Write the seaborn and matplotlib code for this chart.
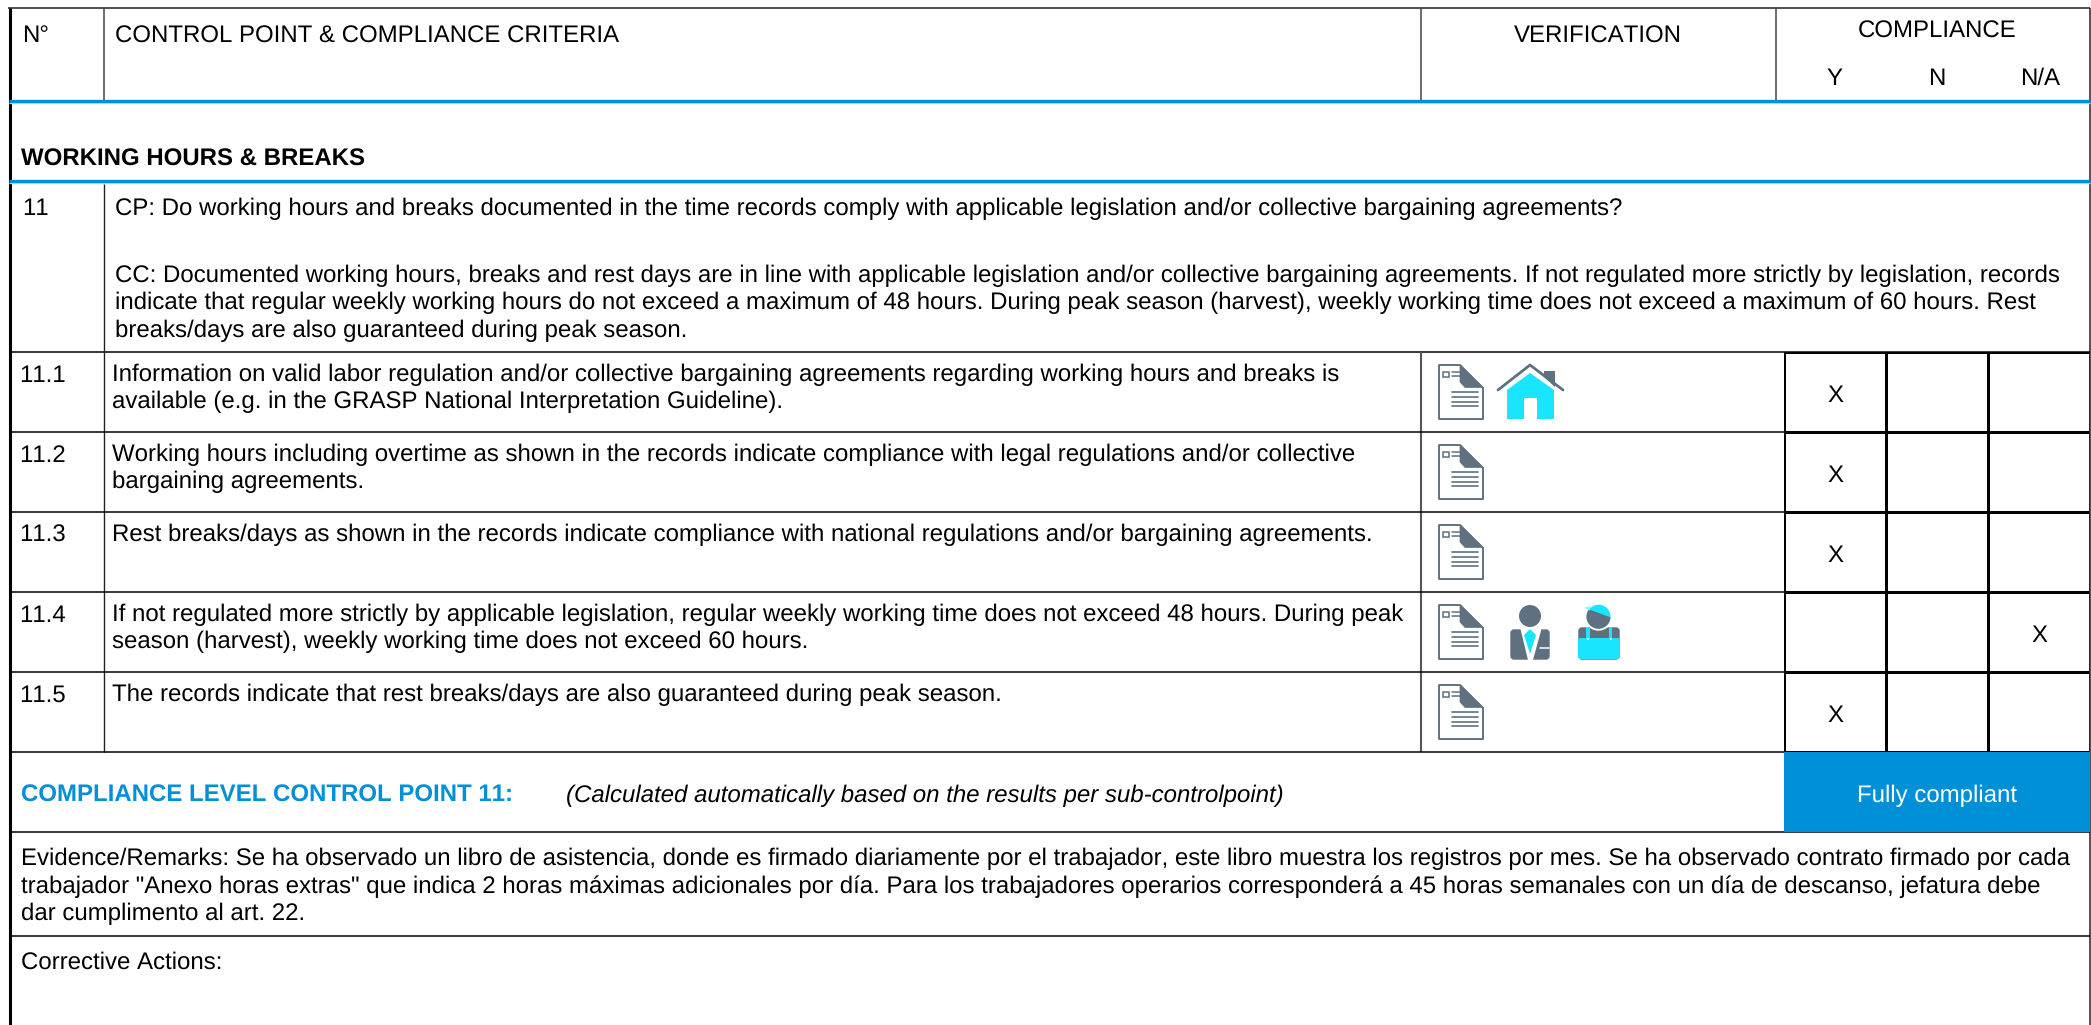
import numpy as np
import seaborn as sns
import matplotlib.pyplot as plt
from matplotlib.colors import ListedColormap
from matplotlib.patches import Polygon, Circle, Rectangle, FancyBboxPatch

W, H = 2091, 1025
BLUE = '#0090D7'
CYAN = '#19E5FF'
SLATE = '#5F7180'
FS = 17.25

# chart content
row_ids = ['11.1', '11.2', '11.3', '11.4', '11.5']
row_text = [
    ['Information on valid labor regulation and/or collective bargaining agreements regarding working hours and breaks is',
     'available (e.g. in the GRASP National Interpretation Guideline).'],
    ['Working hours including overtime as shown in the records indicate compliance with legal regulations and/or collective',
     'bargaining agreements.'],
    ['Rest breaks/days as shown in the records indicate compliance with national regulations and/or bargaining agreements.'],
    ['If not regulated more strictly by applicable legislation, regular weekly working time does not exceed 48 hours. During peak',
     'season (harvest), weekly working time does not exceed 60 hours.'],
    ['The records indicate that rest breaks/days are also guaranteed during peak season.'],
]
row_icons = [['doc', 'house'], ['doc'], ['doc'], ['doc', 'manager', 'worker'], ['doc']]
compliance_cols = ['Y', 'N', 'N/A']
compliance = [['X', '', ''], ['X', '', ''], ['X', '', ''], ['', '', 'X'], ['X', '', '']]
cp_line = 'CP: Do working hours and breaks documented in the time records comply with applicable legislation and/or collective bargaining agreements?'
cc_lines = [
    'CC: Documented working hours, breaks and rest days are in line with applicable legislation and/or collective bargaining agreements. If not regulated more strictly by legislation, records',
    'indicate that regular weekly working hours do not exceed a maximum of 48 hours. During peak season (harvest), weekly working time does not exceed a maximum of 60 hours. Rest',
    'breaks/days are also guaranteed during peak season.',
]
evidence_lines = [
    'Evidence/Remarks: Se ha observado un libro de asistencia, donde es firmado diariamente por el trabajador, este libro muestra los registros por mes. Se ha observado contrato firmado por cada',
    'trabajador "Anexo horas extras" que indica 2 horas máximas adicionales por día. Para los trabajadores operarios corresponderá a 45 horas semanales con un día de descanso, jefatura debe',
    'dar cumplimento al art. 22.',
]

sns.set_theme(style='white')
plt.rcParams['font.family'] = ['Liberation Sans', 'DejaVu Sans']
plt.rcParams['text.hinting'] = 'no_hinting'
plt.rcParams['text.hinting_factor'] = 1
plt.rcParams['text.kerning_factor'] = 6

fig = plt.figure(figsize=(W / 100, H / 100), dpi=100, facecolor='white')
ax = fig.add_axes([0, 0, 1, 1])
ax.set_xlim(0, W)
ax.set_ylim(H, 0)
ax.axis('off')


def hline(y, x0=9, x1=2090, color='black', lw=1.1):
    ax.plot([x0, x1], [y, y], color=color, lw=lw, solid_capstyle='butt')


def vline(x, y0, y1, color='black', lw=1.0):
    ax.plot([x, x], [y0, y1], color=color, lw=lw, solid_capstyle='butt')


def label(x, y, s, **kw):
    kw.setdefault('fontsize', FS)
    kw.setdefault('color', 'black')
    kw.setdefault('va', 'baseline')
    ax.text(x, y, s, **kw)


def draw_doc(x, y):
    ax.add_patch(Polygon([(x, y), (x + 21, y), (x + 44, y + 23), (x + 44, y + 54), (x, y + 54)],
                         closed=True, fc='white', ec=SLATE, lw=1.4, joinstyle='round'))
    ax.add_patch(Polygon([(x + 21, y), (x + 21, y + 17), (x + 26, y + 22.5), (x + 44, y + 22.5)],
                         closed=True, fc=SLATE, ec=SLATE, lw=0.5))
    ax.add_patch(Rectangle((x + 3.5, y + 6.5), 6.5, 5, fc='white', ec=SLATE, lw=1.1))
    for dy in [7, 10.5]:
        ax.plot([x + 12.5, x + 21], [y + dy, y + dy], color=SLATE, lw=1.1)
    for dy in [27.3, 32, 36.7, 41.3]:
        ax.plot([x + 12.5, x + 39], [y + dy, y + dy], color=SLATE, lw=1.2)


def draw_house(x, y):
    ax.add_patch(Polygon([(x + 46, y + 6), (x + 57, y + 6), (x + 57, y + 22), (x + 46, y + 12)],
                         closed=True, fc=SLATE, ec='none'))
    ax.add_patch(Polygon([(x + 32, y + 8), (x + 56, y + 25), (x + 56, y + 54), (x + 39, y + 54), (x + 39, y + 33),
                          (x + 26, y + 33), (x + 26, y + 54), (x + 9, y + 54), (x + 9, y + 25)],
                         closed=True, fc=CYAN, ec='none'))
    ax.plot([x, x + 32, x + 65], [y + 25, y, y + 25], color=SLATE, lw=2.0)


def draw_manager(x, y):
    ax.add_patch(Circle((x + 21, y + 11), 11, fc=SLATE, ec='none'))
    ax.add_patch(FancyBboxPatch((x + 2, y + 25), 38, 29, boxstyle='round,pad=0,rounding_size=3', fc=SLATE, ec=SLATE, lw=1))
    ax.add_patch(Polygon([(x + 11, y + 22), (x + 19, y + 55), (x + 24, y + 55), (x + 33, y + 22)], closed=True, fc='white', ec='none'))
    ax.add_patch(Polygon([(x + 21, y + 24), (x + 27, y + 30), (x + 21, y + 49), (x + 15, y + 30)], closed=True, fc=CYAN, ec='none'))
    ax.plot([x + 31, x + 40], [y + 43, y + 43], color='white', lw=1.1)


def draw_worker(x, y):
    cx, cy = x + 20.5, y + 11.7
    ax.add_patch(FancyBboxPatch((x + 1, y + 23), 40, 31, boxstyle='round,pad=0,rounding_size=3', fc=SLATE, ec=SLATE, lw=1))
    ax.add_patch(FancyBboxPatch((x, y + 33), 42, 21, boxstyle='round,pad=0,rounding_size=3', fc=CYAN, ec='none'))
    ax.add_patch(Circle((cx, cy), 14, fc='white', ec='none'))
    cap = Circle((cx, cy), 12, fc=CYAN, ec='none')
    ax.add_patch(cap)
    head = Polygon([(cx - 14, cy - 9), (cx + 13, cy + 1), (cx + 13, cy + 14), (cx - 14, cy + 14)],
                   closed=True, fc=SLATE, ec='none')
    ax.add_patch(head)
    head.set_clip_path(cap)
    ax.add_patch(Polygon([(cx - 14, cy - 9), (cx - 8, cy - 11), (cx - 9, cy - 6)], closed=True, fc='#8CF1FF', ec='none'))
    for sx in [8.3, 31]:
        ax.add_patch(Rectangle((x + sx, y + 22), 3.4, 12, fc=CYAN, ec='none'))
        ax.add_patch(Circle((x + sx + 1.7, y + 34), 1.0, fc='white', ec='none'))


icon_funcs = {'doc': (draw_doc, 1439), 'house': (draw_house, 1498),
              'manager': (draw_manager, 1509), 'worker': (draw_worker, 1578)}

# outer frame and header
hline(8, 8, 2090, color='#333333', lw=1.2)
vline(10, 8, H, lw=2.2)
vline(2090, 8, H, color='#333333', lw=1.2)
for x in [103.5, 1421, 1776]:
    vline(x, 8, 100, color='#444444', lw=1.1)
for y in [101, 181]:
    hline(y + 2, color='#BFE3F5', lw=1.0)
    hline(y, color=BLUE, lw=2.4)

label(22, 42.5, 'N°')
label(115, 42.5, 'CONTROL POINT & COMPLIANCE CRITERIA')
label(1598, 42.5, 'VERIFICATION', ha='center')
label(1937, 37.5, 'COMPLIANCE', ha='center')
for cx, name in zip([1834, 1937, 2040], compliance_cols):
    label(cx, 85, name, ha='center')
label(21, 165.5, 'WORKING HOURS & BREAKS', fontweight='bold')

# control point block
label(22, 215, '11')
label(115, 215, cp_line)
for y, line in zip([281.7, 309.3, 336.7], cc_lines):
    label(115, y, line)
hline(352)
vline(103.5, 184, 752, color='#222222', lw=1.0)
vline(1421, 352, 752, color='#555555', lw=1.5)

# sub control points
row_tops = [352, 432, 512, 592, 672]
for top, rid, lines, icons in zip(row_tops, row_ids, row_text, row_icons):
    hline(top + 80, 9, 1784)
    label(19.5, top + 29.5, rid)
    for k, line in enumerate(lines):
        label(112.5, top + 29.5 + k * 26.6, line)
    for name in icons:
        func, x = icon_funcs[name]
        func(x, top + 13)

# compliance tick cells
grid_ax = fig.add_axes([1784 / W, 1 - 752 / H, 306 / W, 400 / H], zorder=3)
sns.heatmap(np.zeros((5, 3)), ax=grid_ax, annot=np.array(compliance), fmt='', cbar=False,
            cmap=ListedColormap(['white']), linewidths=2.0, linecolor='black',
            xticklabels=False, yticklabels=False, annot_kws={'fontsize': FS, 'color': 'black'})
grid_ax.set_xlim(0, 3)
grid_ax.set_ylim(5, 0)
for t in grid_ax.texts:
    px, py = t.get_position()
    t.set_position((px, py + 0.045))

# compliance level
label(21, 801.7, 'COMPLIANCE LEVEL CONTROL POINT 11:', color=BLUE, fontweight='bold')
label(566, 801.7, '(Calculated automatically based on the results per sub-controlpoint)', fontstyle='italic')
ax.add_patch(Rectangle((1784, 752), 306, 80, fc=BLUE, ec='none', zorder=4))
ax.set_zorder(4)
ax.patch.set_visible(False)
label(1937, 801.7, 'Fully compliant', color='white', ha='center', zorder=5)

hline(832, lw=1.1)
for y, line in zip([865, 892.7, 920], evidence_lines):
    label(21, y, line, fontsize=17.15)
hline(936, lw=1.1)
label(21, 969, 'Corrective Actions:')

fig.savefig('out.png', dpi=100, facecolor='white')
